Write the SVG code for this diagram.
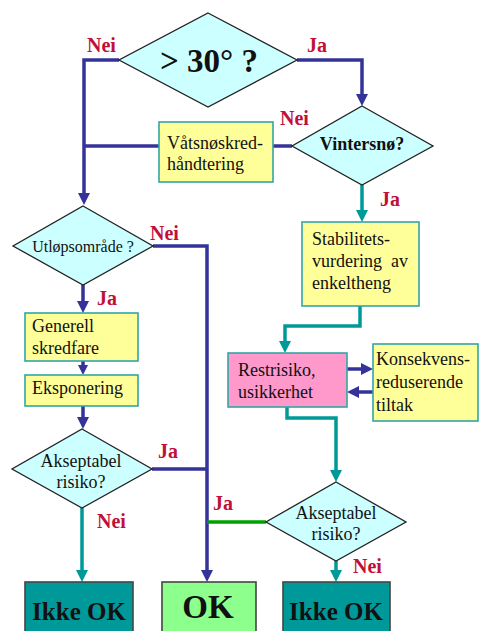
<svg xmlns="http://www.w3.org/2000/svg" width="480" height="631" viewBox="0 0 480 631">
  <style>
    .dia { fill: #CCFFFF; stroke: #222222; stroke-width: 1.3; }
    .box { fill: #FFFF99; stroke: #33A6A6; stroke-width: 1.6; }
    .pink { fill: #FF99CC; stroke: #33A6A6; stroke-width: 1.6; }
    .bad { fill: #009999; stroke: #444444; stroke-width: 1.6; }
    .good { fill: #8CFF8C; stroke: #444444; stroke-width: 1.6; }
    text { font-family: 'Liberation Serif', Tinos, 'DejaVu Serif', 'Times New Roman', serif; }
    .t { fill: #111111; }
    .s16 { font-size: 16px; }
    .s18 { font-size: 18px; }
    .b { font-weight: bold; }
    .lbl { font-size: 20px; font-weight: bold; fill: #C0103A; }
    .blue { fill: none; stroke: #333399; stroke-width: 3.5; }
    .teal { fill: none; stroke: #009999; stroke-width: 3.5; }
    .green { fill: none; stroke: #00A000; stroke-width: 3.5; }
  </style>
  <defs>
    <marker id="ab" markerUnits="userSpaceOnUse" markerWidth="12" markerHeight="12" refX="1" refY="6" orient="auto">
      <path d="M0,0 L12,6 L0,12 z" fill="#333399"/>
    </marker>
    <marker id="at" markerUnits="userSpaceOnUse" markerWidth="12" markerHeight="12" refX="1" refY="6" orient="auto">
      <path d="M0,0 L12,6 L0,12 z" fill="#009999"/>
    </marker>
    <marker id="abs" markerUnits="userSpaceOnUse" markerWidth="10" markerHeight="10" refX="1" refY="5" orient="auto">
      <path d="M0,0 L10,5 L0,10 z" fill="#333399"/>
    </marker>
  </defs>

  <g id="connectors">
    <path class="blue" d="M119,60 H84 V194" marker-end="url(#ab)"/>
    <path class="blue" d="M297,60 H362 V95" marker-end="url(#ab)"/>
    <path class="blue" d="M159,146 H84"/>
    <path class="blue" d="M292,146 H273"/>
    <path class="blue" d="M83,285 V302" marker-end="url(#ab)"/>
    <path class="blue" d="M83,361 V366" marker-end="url(#abs)"/>
    <path class="blue" d="M83,406 V418" marker-end="url(#ab)"/>
    <path class="blue" d="M153,246 H207 V571" marker-end="url(#ab)"/>
    <path class="blue" d="M152,469 H207"/>
    <path class="blue" d="M347,369 H362" marker-end="url(#ab)"/>
    <path class="blue" d="M373,392 H358" marker-end="url(#ab)"/>
    <path class="teal" d="M362,185 V211" marker-end="url(#at)"/>
    <path class="teal" d="M360,306 V326 H285 V342" marker-end="url(#at)"/>
    <path class="teal" d="M287,407 V418 H336 V471" marker-end="url(#at)"/>
    <path class="teal" d="M82,508 V571" marker-end="url(#at)"/>
    <path class="teal" d="M336,561 V571" marker-end="url(#at)"/>
    <path class="green" d="M207,522 H266"/>
  </g>

  <g id="labels">
    <text class="lbl" x="87" y="52">Nei</text>
    <text class="lbl" x="307" y="52">Ja</text>
    <text class="lbl" x="280" y="125">Nei</text>
    <text class="lbl" x="380" y="206">Ja</text>
    <text class="lbl" x="150" y="240">Nei</text>
    <text class="lbl" x="97" y="305">Ja</text>
    <text class="lbl" x="158" y="458">Ja</text>
    <text class="lbl" x="97" y="528">Nei</text>
    <text class="lbl" x="213" y="510">Ja</text>
    <text class="lbl" x="353" y="573">Nei</text>
  </g>

  <g id="slope">
    <polygon class="dia" points="208,13 297,60 208,107 119,60"/>
    <text class="t b" x="209" y="72" font-size="33" text-anchor="middle">&gt; 30° ?</text>
  </g>

  <g id="wintersnow">
    <polygon class="dia" points="362,106 433,146 362,185 292,146"/>
    <text class="t s18 b" x="362" y="150" text-anchor="middle">Vintersnø?</text>
  </g>

  <g id="wetsnow">
    <rect class="box" x="159" y="122" width="114" height="60"/>
    <text class="t s18" x="167" y="149">Våtsnøskred-</text>
    <text class="t s18" x="167" y="170">håndtering</text>
  </g>

  <g id="runout">
    <polygon class="dia" points="83,206 153,246 83,285 13,246"/>
    <text class="t s16" x="83" y="252" text-anchor="middle">Utløpsområde ?</text>
  </g>

  <g id="general">
    <rect class="box" x="25" y="313" width="113" height="48"/>
    <text class="t s18" x="32" y="332">Generell</text>
    <text class="t s18" x="32" y="354">skredfare</text>
  </g>

  <g id="exposure">
    <rect class="box" x="25" y="375" width="113" height="31"/>
    <text class="t s18" x="32" y="394">Eksponering</text>
  </g>

  <g id="risk-left">
    <polygon class="dia" points="82,429 152,469 82,508 12,469"/>
    <text class="t s18" x="81" y="467" text-anchor="middle">Akseptabel</text>
    <text class="t s18" x="81" y="488" text-anchor="middle">risiko?</text>
  </g>

  <g id="stability">
    <rect class="box" x="302" y="222" width="117" height="84"/>
    <text class="t s18" x="312" y="245">Stabilitets-</text>
    <text class="t s18" x="312" y="267" xml:space="preserve">vurdering  av</text>
    <text class="t s18" x="312" y="289">enkeltheng</text>
  </g>

  <g id="residual">
    <rect class="pink" x="228" y="353" width="119" height="54"/>
    <text class="t s18" x="238" y="376">Restrisiko,</text>
    <text class="t s18" x="238" y="398">usikkerhet</text>
  </g>

  <g id="mitigation">
    <rect class="box" x="373" y="344" width="105" height="77"/>
    <text class="t s18" x="376" y="365">Konsekvens-</text>
    <text class="t s18" x="376" y="388">reduserende</text>
    <text class="t s18" x="376" y="411">tiltak</text>
  </g>

  <g id="risk-right">
    <polygon class="dia" points="336,482 406,522 336,561 266,522"/>
    <text class="t s18" x="336" y="519" text-anchor="middle">Akseptabel</text>
    <text class="t s18" x="336" y="540" text-anchor="middle">risiko?</text>
  </g>

  <g id="notok-left">
    <rect class="bad" x="25" y="582" width="108" height="60"/>
    <text class="t b" x="79" y="620" font-size="25" text-anchor="middle">Ikke OK</text>
  </g>

  <g id="ok">
    <rect class="good" x="162" y="582" width="94" height="60"/>
    <text class="t b" x="208" y="618" font-size="33" text-anchor="middle">OK</text>
  </g>

  <g id="notok-right">
    <rect class="bad" x="283" y="582" width="107" height="60"/>
    <text class="t b" x="336" y="620" font-size="25" text-anchor="middle">Ikke OK</text>
  </g>
</svg>
